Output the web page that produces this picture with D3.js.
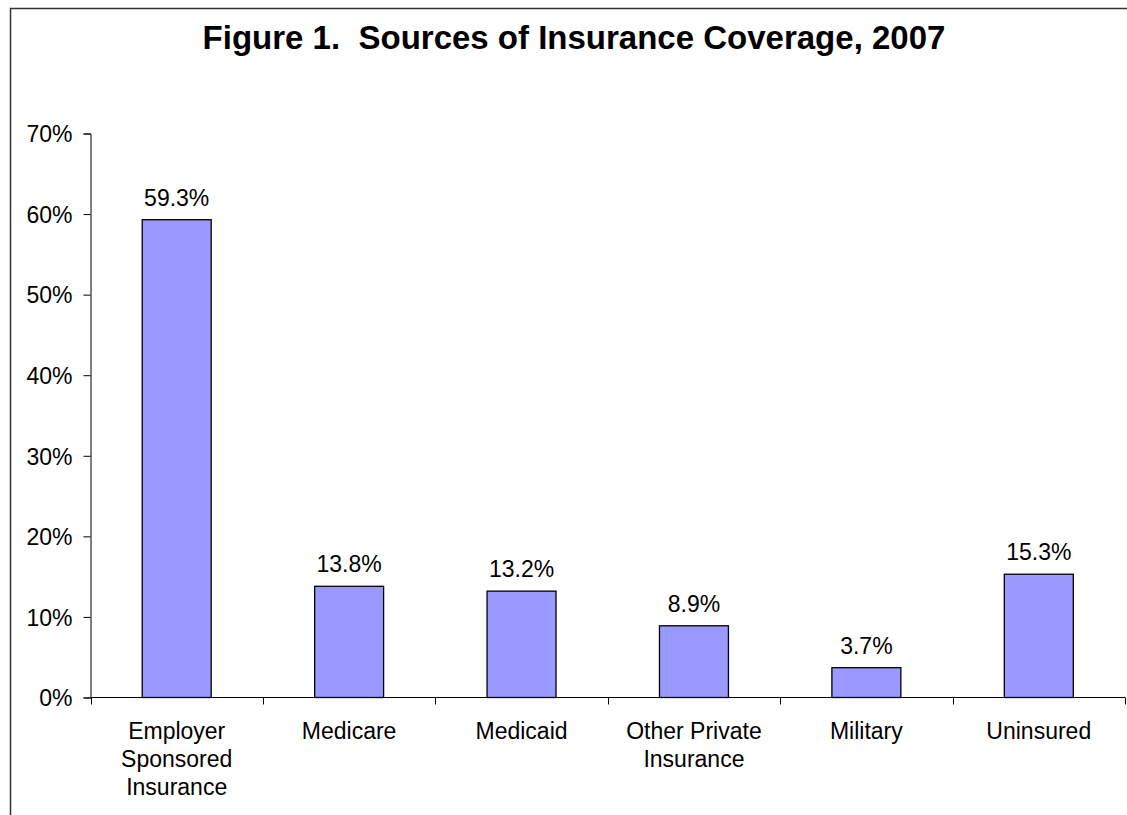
<!DOCTYPE html>
<html>
<head>
<meta charset="utf-8">
<script src="https://cdn.jsdelivr.net/npm/d3@7"></script>
<style>
  html, body { margin: 0; padding: 0; background: #fff; }
  svg { display: block; font-family: Arial, "Liberation Sans", sans-serif; }
</style>
</head>
<body>
<svg id="chart" width="1127" height="815"></svg>
<script>
const categories = ['Employer Sponsored Insurance', 'Medicare', 'Medicaid', 'Other Private Insurance', 'Military', 'Uninsured'];
const values = [59.3, 13.8, 13.2, 8.9, 3.7, 15.3];
const yTicks = [0, 10, 20, 30, 40, 50, 60, 70];
const title = 'Figure 1.  Sources of Insurance Coverage, 2007';

const width = 1127;
const height = 815;
const margin = {top: 133.5, left: 90.5, right: 2, bottom: 117.5};

const svg = d3.select('#chart');

// frame around the figure, runs off the right and bottom edges
svg.append('rect')
  .attr('x', 10.5).attr('y', 8.5)
  .attr('width', 1300).attr('height', 1000)
  .attr('fill', 'none')
  .attr('stroke', '#333')
  .attr('stroke-width', 1.5);

svg.append('text')
  .attr('x', 574)
  .attr('y', 48.5)
  .attr('text-anchor', 'middle')
  .style('font-size', '33px')
  .style('font-weight', 'bold')
  .style('white-space', 'pre')
  .text(title);

const x = d3.scaleBand()
  .domain(categories)
  .range([margin.left, width - margin.right])
  .paddingInner(0)
  .paddingOuter(0);

const y = d3.scaleLinear()
  .domain([0, 70])
  .range([height - margin.bottom, margin.top]);

const barWidth = x.bandwidth() * 0.4;

// y axis
const yAxis = svg.append('g')
  .attr('transform', `translate(${margin.left},0)`)
  .call(d3.axisLeft(y).tickValues(yTicks).tickFormat(d => d + '%').tickSize(7).tickPadding(11));
yAxis.selectAll('text').style('font-size', '23px').attr('fill', '#000').attr('dy', '0.36em');

// x axis with ticks on the category boundaries
const boundaries = categories.map(c => x(c)).concat([x(categories[categories.length - 1]) + x.bandwidth()]);
const xAxis = svg.append('g')
  .attr('transform', `translate(0,${y(0)})`);
xAxis.append('line')
  .attr('x1', margin.left).attr('x2', width - margin.right)
  .attr('stroke', '#000');
xAxis.selectAll('line.tick')
  .data(boundaries)
  .enter().append('line')
  .attr('class', 'tick')
  .attr('x1', d => Math.round(d) + 0.5).attr('x2', d => Math.round(d) + 0.5)
  .attr('y1', 0).attr('y2', 7)
  .attr('stroke', '#000');

svg.selectAll('.domain, .tick line').attr('stroke', '#000');

// bars
svg.selectAll('rect.bar')
  .data(values)
  .enter().append('rect')
  .attr('class', 'bar')
  .attr('x', (v, i) => x(categories[i]) + (x.bandwidth() - barWidth) / 2)
  .attr('width', barWidth)
  .attr('y', v => y(v))
  .attr('height', v => y(0) - y(v))
  .attr('fill', '#9999ff')
  .attr('stroke', '#000')
  .attr('stroke-width', 1.3);

// value labels
svg.selectAll('text.value')
  .data(values)
  .enter().append('text')
  .attr('class', 'value')
  .attr('x', (v, i) => x(categories[i]) + x.bandwidth() / 2)
  .attr('y', v => y(v) - 14)
  .attr('text-anchor', 'middle')
  .style('font-size', '23px')
  .text(v => v.toFixed(1) + '%');

// category labels, wrapped to the band width
const labels = svg.selectAll('text.cat')
  .data(categories)
  .enter().append('text')
  .attr('class', 'cat')
  .attr('x', d => x(d) + x.bandwidth() / 2)
  .attr('y', y(0) + 41)
  .attr('text-anchor', 'middle')
  .style('font-size', '23px');

labels.each(function(d) {
  const text = d3.select(this);
  const words = d.split(' ');
  const cx = x(d) + x.bandwidth() / 2;
  let line = [];
  let tspan = text.append('tspan').attr('x', cx).attr('dy', 0);
  words.forEach(w => {
    line.push(w);
    tspan.text(line.join(' '));
    if (tspan.node().getComputedTextLength() > x.bandwidth() - 20 && line.length > 1) {
      line.pop();
      tspan.text(line.join(' '));
      line = [w];
      tspan = text.append('tspan').attr('x', cx).attr('dy', 28.3).text(w);
    }
  });
});
</script>
</body>
</html>
